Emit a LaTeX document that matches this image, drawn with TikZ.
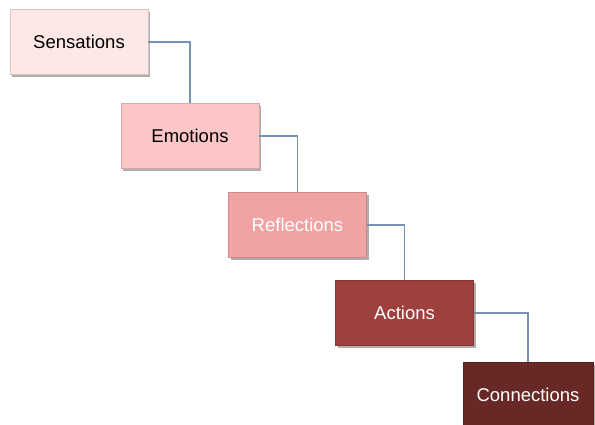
\documentclass[tikz,border=0pt]{standalone}
\usepackage{fontspec}
\setmainfont{Liberation Sans}
\usetikzlibrary{shadows}
\definecolor{sensfill}{RGB}{253,232,230}
\definecolor{emofill}{RGB}{252,198,198}
\definecolor{reflfill}{RGB}{240,163,163}
\definecolor{actfill}{RGB}{158,64,62}
\definecolor{connfill}{RGB}{104,40,38}
\definecolor{linkcol}{RGB}{118,146,182}
\begin{document}
\begin{tikzpicture}[x=1pt,y=-1pt,
  stage/.style={rectangle, minimum width=138pt, minimum height=65pt, inner sep=0pt,
    font=\fontsize{18.5}{22}\selectfont, line width=0.6pt,
    drop shadow={shadow xshift=2pt, shadow yshift=-2.5pt, opacity=0.45, fill=black!70}},
  link/.style={draw=linkcol, line width=1.4pt}]
  \useasboundingbox (0,0) rectangle (595,425);
  \node[stage, fill=sensfill, draw=sensfill!85!black, text=black] (sens) at (79,42) {Sensations};
  \node[stage, fill=emofill, draw=emofill!85!black, text=black] (emo) at (190,136) {Emotions};
  \node[stage, fill=reflfill, draw=reflfill!85!black, text=white] (refl) at (297.5,225) {Reflections};
  \node[stage, fill=actfill, draw=actfill!85!black, text=white] (act) at (404.5,313) {Actions};
  \node[stage, minimum width=130pt, fill=connfill, draw=connfill!85!black, text=white] (conn) at (528,395) {Connections};
  \draw[link] (sens.east) -| (emo.north);
  \draw[link] (emo.east) -| (refl.north);
  \draw[link] (refl.east) -| (act.north);
  \draw[link] (act.east) -| (conn.north);
\end{tikzpicture}
\end{document}
